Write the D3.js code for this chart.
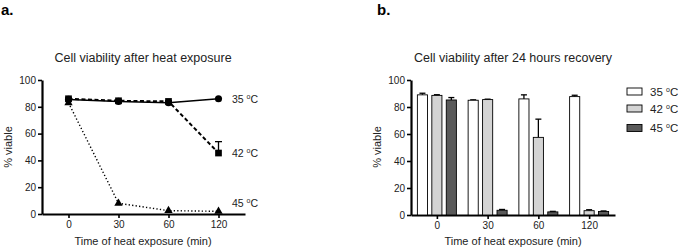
<!DOCTYPE html>
<html lang="en">
<head>
<meta charset="UTF-8">
<title>Cell viability</title>
<script src="https://d3js.org/d3.v7.min.js"></script>
<style>
    body { margin: 0; background: #fff; }
    svg { font-family: 'Liberation Sans', Arial, sans-serif; }
    .axis path, .axis line { stroke: #000; }
    .axis text { font-size: 10px; fill: #222; }
</style>
</head>
<body>
<div id="chart"></div>
<script>
// time points (min)
const times = ["0", "30", "60", "120"];
const temps = ["35", "42", "45"];

// panel a: viability right after heat exposure (%)
const exp35 = [85.5, 84, 83, 86];
const exp42 = [86, 84.5, 84, 45.5];
const exp45 = [83, 8, 2.5, 2];
const exp42Err = [0.5, 0.5, 0.5, 8.5];

// panel b: viability after 24 h recovery (%)
const rec35 = [89, 85, 86, 87.7];
const rec42 = [88.6, 85.5, 57.5, 3.2];
const rec45 = [85.2, 3.5, 2.3, 2.6];
const rec35Err = [1.2, 0.3, 3, 1];
const rec42Err = [0.5, 0.3, 13.5, 0.7];
const rec45Err = [1.8, 0.6, 0.4, 0.4];

const svg = d3.select("#chart").append("svg")
    .attr("width", 678)
    .attr("height", 249);

// ---------- panel a ----------
svg.append("text").attr("x", 1).attr("y", 15)
    .attr("font-size", 15).attr("font-weight", "bold").text("a.");

const xa = d3.scalePoint().domain(times).range([42, 245]).padding(0.53);
const ya = d3.scaleLinear().domain([0, 100]).range([214, 80]);

const gxa = svg.append("g").attr("class", "axis")
    .attr("transform", "translate(0,214)")
    .call(d3.axisBottom(xa).tickSize(4).tickSizeOuter(0).tickPadding(3));
const gya = svg.append("g").attr("class", "axis")
    .attr("transform", "translate(42,0)")
    .call(d3.axisLeft(ya).tickValues([0, 20, 40, 60, 80, 100]).tickSize(4).tickSizeOuter(0).tickPadding(2));
[gxa, gya].forEach(g => {
    g.select(".domain").attr("stroke-width", 2.2);
    g.selectAll(".tick line").attr("stroke-width", 1.6);
});

svg.append("text").attr("x", 143).attr("y", 62).attr("text-anchor", "middle")
    .attr("font-size", 12.5).attr("fill", "#222").text("Cell viability after heat exposure");
svg.append("text").attr("x", 143).attr("y", 245).attr("text-anchor", "middle")
    .attr("font-size", 11).attr("fill", "#222").text("Time of heat exposure (min)");
svg.append("text").attr("transform", "translate(12,147) rotate(-90)").attr("text-anchor", "middle")
    .attr("font-size", 11).attr("fill", "#222").text("% viable");

const seriesA = [
    { name: "35", vals: exp35, dash: null, width: 1.5, shape: d3.symbolCircle, size: 40 },
    { name: "42", vals: exp42, dash: "4,2.5", width: 2, shape: d3.symbolSquare, size: 45 },
    { name: "45", vals: exp45, dash: "1.3,2.2", width: 1.4, shape: d3.symbolTriangle, size: 30 }
];

// error bar for 42 (upper only)
svg.append("g").selectAll("g").data(times).join("g").each(function (t, i) {
    const g = d3.select(this);
    const x = xa(t), top = ya(exp42[i] + exp42Err[i]);
    g.append("line").attr("x1", x).attr("x2", x).attr("y1", ya(exp42[i])).attr("y2", top)
        .attr("stroke", "#000").attr("stroke-width", 1.3);
    g.append("line").attr("x1", x - 3.5).attr("x2", x + 3.5).attr("y1", top).attr("y2", top)
        .attr("stroke", "#000").attr("stroke-width", 1.3);
});

const line = d3.line().x((d, i) => xa(times[i])).y(d => ya(d));
seriesA.forEach(s => {
    svg.append("path").datum(s.vals)
        .attr("fill", "none").attr("stroke", "#000")
        .attr("stroke-width", s.width)
        .attr("stroke-dasharray", s.dash)
        .attr("d", line);
    svg.append("g").selectAll("path").data(s.vals).join("path")
        .attr("transform", (d, i) => `translate(${xa(times[i])},${ya(d)})`)
        .attr("d", d3.symbol().type(s.shape).size(s.size))
        .attr("fill", "#000");
});

// right-hand series labels
seriesA.forEach(s => {
    const last = s.vals[s.vals.length - 1];
    const lbl = svg.append("text").attr("x", 232)
        .attr("y", ya(last) + (s.name === "45" ? -4 : 4))
        .attr("font-size", 10.5).attr("fill", "#222");
    lbl.append("tspan").text(s.name + " ");
    lbl.append("tspan").attr("dy", -4).attr("font-size", 7).text("o");
    lbl.append("tspan").attr("dy", 4).text("C");
});

// ---------- panel b ----------
svg.append("text").attr("x", 377).attr("y", 15)
    .attr("font-size", 15).attr("font-weight", "bold").text("b.");

const xb = d3.scalePoint().domain(times).range([411, 615]).padding(0.51);
const xs = d3.scaleBand().domain(temps).range([-19.5, 19.5]).paddingInner(0.3);
const yb = d3.scaleLinear().domain([0, 100]).range([215, 80]);

const gxb = svg.append("g").attr("class", "axis")
    .attr("transform", "translate(0,215)")
    .call(d3.axisBottom(xb).tickSize(4).tickSizeOuter(0).tickPadding(3));
const gyb = svg.append("g").attr("class", "axis")
    .attr("transform", "translate(411,0)")
    .call(d3.axisLeft(yb).tickValues([0, 20, 40, 60, 80, 100]).tickSize(4).tickSizeOuter(0).tickPadding(2));
[gxb, gyb].forEach(g => {
    g.select(".domain").attr("stroke-width", 2.2);
    g.selectAll(".tick line").attr("stroke-width", 1.6);
});

svg.append("text").attr("x", 513).attr("y", 62).attr("text-anchor", "middle")
    .attr("font-size", 12.5).attr("fill", "#222").text("Cell viability after 24 hours recovery");
svg.append("text").attr("x", 513).attr("y", 245).attr("text-anchor", "middle")
    .attr("font-size", 11).attr("fill", "#222").text("Time of heat exposure (min)");
svg.append("text").attr("transform", "translate(381,147) rotate(-90)").attr("text-anchor", "middle")
    .attr("font-size", 11).attr("fill", "#222").text("% viable");

const fills = { "35": "#ffffff", "42": "#d4d4d4", "45": "#5a5a5a" };
const recVals = { "35": rec35, "42": rec42, "45": rec45 };
const recErr = { "35": rec35Err, "42": rec42Err, "45": rec45Err };

const bars = [];
times.forEach((t, i) => temps.forEach(k => bars.push({ t, k, v: recVals[k][i], e: recErr[k][i] })));

const gb = svg.append("g").selectAll("g").data(bars).join("g");
gb.append("line")
    .attr("x1", d => xb(d.t) + xs(d.k) + xs.bandwidth() / 2)
    .attr("x2", d => xb(d.t) + xs(d.k) + xs.bandwidth() / 2)
    .attr("y1", d => yb(d.v)).attr("y2", d => yb(d.v + d.e))
    .attr("stroke", "#000").attr("stroke-width", 1.3);
gb.append("line")
    .attr("x1", d => xb(d.t) + xs(d.k) + xs.bandwidth() / 2 - 3)
    .attr("x2", d => xb(d.t) + xs(d.k) + xs.bandwidth() / 2 + 3)
    .attr("y1", d => yb(d.v + d.e)).attr("y2", d => yb(d.v + d.e))
    .attr("stroke", "#000").attr("stroke-width", 1.3);
gb.append("rect")
    .attr("x", d => xb(d.t) + xs(d.k))
    .attr("width", xs.bandwidth())
    .attr("y", d => yb(d.v))
    .attr("height", d => yb(0) - yb(d.v))
    .attr("fill", d => fills[d.k])
    .attr("stroke", "#000").attr("stroke-width", 0.9);

// legend
const legY = { "35": 91.5, "42": 108.5, "45": 128 };
const leg = svg.append("g").selectAll("g").data(temps).join("g")
    .attr("transform", d => `translate(627,${legY[d]})`);
leg.append("rect").attr("x", 0).attr("y", -3.5).attr("width", 15).attr("height", 7)
    .attr("fill", d => fills[d]).attr("stroke", "#000").attr("stroke-width", 0.9);
const lt = leg.append("text").attr("x", 23).attr("y", 4).attr("font-size", 11.5).attr("fill", "#222");
lt.append("tspan").text(d => d + " ");
lt.append("tspan").attr("dy", -4).attr("font-size", 7).text("o");
lt.append("tspan").attr("dy", 4).text("C");
</script>
</body>
</html>
